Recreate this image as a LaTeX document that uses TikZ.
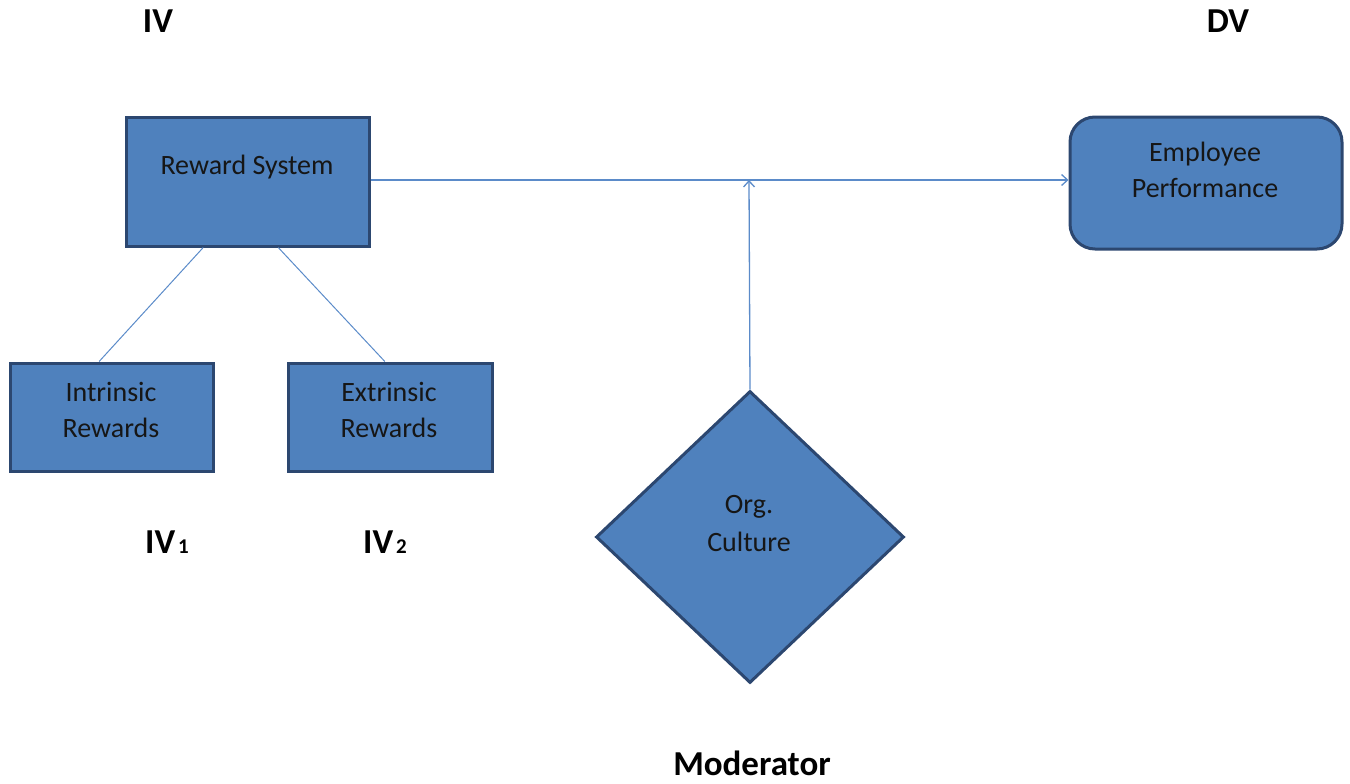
\documentclass[tikz,border=0pt]{standalone}
\usepackage{fontspec}
\setmainfont{Carlito}
\usetikzlibrary{arrows.meta,shapes.geometric,calc}
\definecolor{boxfill}{HTML}{4F81BD}
\definecolor{boxline}{HTML}{2C4770}
\definecolor{conn}{HTML}{5B8BC9}
\definecolor{txt}{HTML}{161616}
\begin{document}
\begin{tikzpicture}[x=1pt,y=-1pt,
  blk/.style={draw=boxline,fill=boxfill,line width=3pt,inner sep=0pt},
  btxt/.style={anchor=base,inner sep=0pt,text=txt,font=\fontsize{28}{37}\selectfont},
  lbl/.style={anchor=base,inner sep=0pt,text=black,font=\fontsize{35}{40}\selectfont\bfseries},
  link/.style={draw=conn,line width=1.3pt},
  arr/.style={link,-{Straight Barb[length=6pt,width=11pt,line width=1.3pt]}}]
\useasboundingbox (0,0) rectangle (1350,784);

% boxes
\node[blk,minimum width=243pt,minimum height=129pt] (rs) at (247.5,181.5) {};
\node[blk,minimum width=203pt,minimum height=108pt] (ir) at (111.5,417) {};
\node[blk,minimum width=204pt,minimum height=108pt] (er) at (390,417) {};
\node[blk,rounded corners=25pt,minimum width=272pt,minimum height=132pt] (ep) at (1206,183) {};
\node[blk,diamond,minimum width=308pt,minimum height=292pt] (oc) at (750,537) {};

% box texts
\node[btxt] (rst) at (247,174) {Reward System};
\node[btxt] (ir1) at (111,401) {Intrinsic};
\node[btxt] (ir2) at (111,437) {Rewards};
\node[btxt] (er1) at (389,401) {Extrinsic};
\node[btxt] (er2) at (389,437) {Rewards};
\node[btxt] (ep1) at (1205,161) {Employee};
\node[btxt] (ep2) at (1205,197) {Performance};
\node[btxt] (oc1) at (749,513) {Org.};
\node[btxt] (oc2) at (749,551) {Culture};

% labels
\node[lbl] (liv) at (158,33) {IV};
\node[lbl] (ldv) at (1228,33) {DV};
\node[lbl] (liv1) at (167,553) {IV\hspace{3pt}{\fontsize{21}{24}\selectfont 1}};
\node[lbl] (liv2) at (385,553) {IV\hspace{3pt}{\fontsize{21}{24}\selectfont 2}};
\node[lbl] (lmod) at (752,775) {Moderator};

% connectors
\coordinate (j) at (749,180);
\draw[arr] (rs.east |- j) -- (ep.west |- j);
\draw[arr] (oc.north) -- (j);
\draw[link,line width=1pt] ($(rs.south west)!0.32!(rs.south east)$) -- ($(ir.north west)!0.44!(ir.north east)$);
\draw[link,line width=1pt] ($(rs.south west)!0.625!(rs.south east)$) -- ($(er.north west)!0.475!(er.north east)$);
\end{tikzpicture}
\end{document}
